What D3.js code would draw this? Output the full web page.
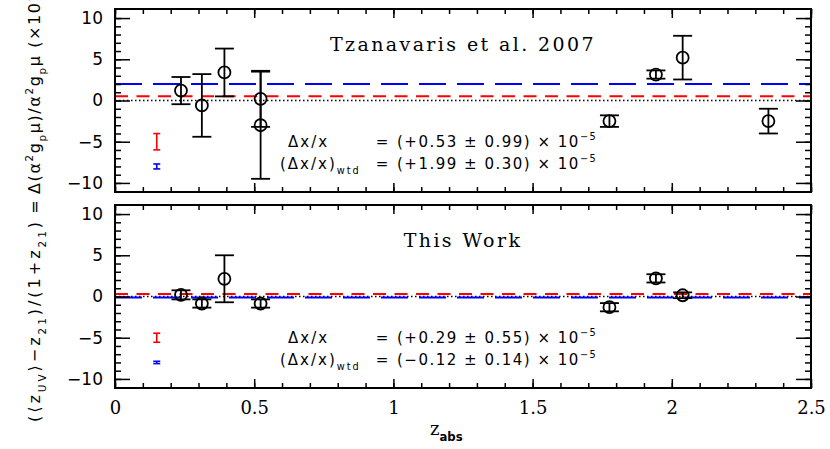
<!DOCTYPE html>
<html>
<head>
<meta charset="utf-8">
<script src="https://cdn.jsdelivr.net/npm/d3@7"></script>
<style>
  body { margin: 0; background: #fff; }
  svg { display: block; }
</style>
</head>
<body>
<svg width="830" height="449"></svg>
<script>
// Tzanavaris et al. 2007 points
const zTz = [0.237, 0.312, 0.393, 0.523, 0.523, 1.776, 1.943, 2.039, 2.347];
const dTz = [1.2, -0.6, 3.4, 0.2, -3.0, -2.5, 3.15, 5.2, -2.5];
const eTz = [1.65, 3.8, 2.9, 3.4, 6.5, 0.7, 0.5, 2.65, 1.5];

// This work points
const zThis = [0.237, 0.312, 0.393, 0.523, 1.776, 1.943, 2.039];
const dThis = [0.2, -0.85, 2.15, -0.85, -1.3, 2.2, 0.15];
const eThis = [0.55, 0.5, 2.85, 0.5, 0.5, 0.5, 0.35];

// mean and weighted mean (x 1e-5)
const meanTz = [0.53, 0.99], wtdTz = [1.99, 0.30];
const meanThis = [0.29, 0.55], wtdThis = [-0.12, 0.14];

const xTicks = [0, 0.5, 1, 1.5, 2, 2.5];
const yTicks = [-10, -5, 0, 5, 10];
const panelTitles = ['Tzanavaris et al. 2007', 'This Work'];

const SERIF = '"DejaVu Serif", serif';
const SANS = '"DejaVu Sans", sans-serif';

const svg = d3.select('svg');
const x = d3.scaleLinear().domain([0, 2.5]).range([115, 811]);
const xMinor = d3.range(0, 2.51, 0.1);
const yMinor = d3.range(-10, 11, 1);

function rich(text, parts, fs) {
  let shift = 0;
  parts.forEach(p => {
    const target = p.sub ? fs * 0.35 : p.sup ? -fs * 0.45 : 0;
    const ts = text.append('tspan').attr('dy', target - shift).text(p.t);
    if (p.sub || p.sup) ts.attr('font-size', fs * 0.65);
    shift = target;
  });
}

function panel(top, bottom, z, d, e, mean, wtd, title, showX) {
  const y = d3.scaleLinear().domain([-11.1, 11.1]).range([bottom, top]);
  const g = svg.append('g');

  // reference lines
  g.append('line').attr('x1', x(0)).attr('x2', x(2.5))
    .attr('y1', y(0)).attr('y2', y(0))
    .attr('stroke', '#000').attr('stroke-width', 1.5).attr('stroke-dasharray', '1.5,2.5');
  g.append('line').attr('x1', x(0)).attr('x2', x(2.5))
    .attr('y1', y(wtd[0])).attr('y2', y(wtd[0]))
    .attr('stroke', '#0000ff').attr('stroke-width', 2).attr('stroke-dasharray', '27,11');
  g.append('line').attr('x1', x(0)).attr('x2', x(2.5))
    .attr('y1', y(mean[0])).attr('y2', y(mean[0]))
    .attr('stroke', '#ff0000').attr('stroke-width', 2).attr('stroke-dasharray', '13,8.5');

  // data points
  const pts = g.selectAll('.pt').data(z.map((v, i) => ({z: v, d: d[i], e: e[i]})))
    .enter().append('g').attr('class', 'pt');
  pts.append('line')
    .attr('x1', p => x(p.z)).attr('x2', p => x(p.z))
    .attr('y1', p => y(p.d - p.e)).attr('y2', p => y(p.d + p.e));
  [-1, 1].forEach(s => {
    pts.append('line')
      .attr('x1', p => x(p.z) - 9.5).attr('x2', p => x(p.z) + 9.5)
      .attr('y1', p => y(p.d + s * p.e)).attr('y2', p => y(p.d + s * p.e));
  });
  pts.append('circle').attr('cx', p => x(p.z)).attr('cy', p => y(p.d)).attr('r', 6)
    .attr('fill', 'none');
  pts.selectAll('line, circle').attr('stroke', '#000').attr('stroke-width', 1.8);

  // mean error markers
  [[mean, -5, '#ff0000'], [wtd, -8, '#0000ff']].forEach(([m, c, col]) => {
    const mx = x(0.15);
    g.append('line').attr('x1', mx).attr('x2', mx).attr('y1', y(c - m[1])).attr('y2', y(c + m[1]))
      .attr('stroke', col).attr('stroke-width', 1.6);
    [-1, 1].forEach(s => g.append('line').attr('x1', mx - 3.5).attr('x2', mx + 3.5)
      .attr('y1', y(c + s * m[1])).attr('y2', y(c + s * m[1]))
      .attr('stroke', col).attr('stroke-width', 1.6));
  });

  // annotations
  const fs = 15;
  const fmt = v => (v < 0 ? '\u2212' : '+') + Math.abs(v).toFixed(2);
  const l1 = y(-5) + 5.5, l2 = y(-8) + 2.5;
  g.append('text').style('font-family', SANS).attr('x', 288).attr('y', l1)
    .attr('font-size', fs).attr('letter-spacing', 2).text('\u0394x/x');
  const t2 = g.append('text').style('font-family', SANS).attr('x', 280).attr('y', l2)
    .attr('font-size', fs).attr('letter-spacing', 2);
  rich(t2, [{t: '(\u0394x/x)'}, {t: 'wtd', sub: true}], fs);
  [[l1, mean], [l2, wtd]].forEach(([ly, m]) => {
    g.append('text').style('font-family', SANS).attr('x', 382).attr('y', ly)
      .attr('font-size', fs).attr('text-anchor', 'middle').text('=');
    const t = g.append('text').style('font-family', SANS).attr('x', 397).attr('y', ly)
      .attr('font-size', fs).attr('letter-spacing', 1.5);
    rich(t, [{t: `(${fmt(m[0])} \u00b1 ${m[1].toFixed(2)}) \u00d7 10`}, {t: '\u22125', sup: true}], fs);
  });

  g.append('text').style('font-family', SERIF).attr('x', 463).attr('y', y(0) - 49.5)
    .attr('font-size', 19).attr('letter-spacing', 2.4).attr('text-anchor', 'middle').text(title);

  // axes with inward ticks
  const axes = svg.append('g').attr('class', 'axes');
  const noLab = () => '';
  axes.append('g').attr('transform', `translate(0,${bottom})`)
    .call(d3.axisBottom(x).tickValues(xMinor).tickSizeInner(-5).tickSizeOuter(0).tickFormat(noLab));
  const xb = axes.append('g').attr('transform', `translate(0,${bottom})`)
    .call(d3.axisBottom(x).tickValues(xTicks).tickSizeInner(-9).tickSizeOuter(0)
      .tickPadding(26).tickFormat(showX ? d3.format('') : noLab));
  xb.selectAll('text').style('font-family', SERIF).attr('font-size', 18).attr('dy', 0);
  axes.append('g').attr('transform', `translate(0,${top})`)
    .call(d3.axisTop(x).tickValues(xMinor).tickSizeInner(-5).tickSizeOuter(0).tickFormat(noLab));
  axes.append('g').attr('transform', `translate(0,${top})`)
    .call(d3.axisTop(x).tickValues(xTicks).tickSizeInner(-9).tickSizeOuter(0).tickFormat(noLab));
  axes.append('g').attr('transform', `translate(${x(0)},0)`)
    .call(d3.axisLeft(y).tickValues(yMinor).tickSizeInner(-6).tickSizeOuter(0).tickFormat(noLab));
  const yl = axes.append('g').attr('transform', `translate(${x(0)},0)`)
    .call(d3.axisLeft(y).tickValues(yTicks).tickSizeInner(-15).tickSizeOuter(0).tickPadding(12)
      .tickFormat(d => d < 0 ? '\u2212' + Math.abs(d) : d));
  yl.selectAll('text').style('font-family', SANS).attr('font-size', 17);
  axes.append('g').attr('transform', `translate(${x(2.5)},0)`)
    .call(d3.axisRight(y).tickValues(yMinor).tickSizeInner(-6).tickSizeOuter(0).tickFormat(noLab));
  axes.append('g').attr('transform', `translate(${x(2.5)},0)`)
    .call(d3.axisRight(y).tickValues(yTicks).tickSizeInner(-15).tickSizeOuter(0).tickFormat(noLab));
  axes.selectAll('.domain').remove();
  axes.selectAll('.tick line').attr('stroke', '#000').attr('stroke-width', 1.5);
  axes.selectAll('.tick text').attr('fill', '#000');
  axes.append('rect').attr('x', x(0)).attr('y', top).attr('width', x(2.5) - x(0))
    .attr('height', bottom - top).attr('fill', 'none').attr('stroke', '#000').attr('stroke-width', 2);
}

panel(9, 192, zTz, dTz, eTz, meanTz, wtdTz, panelTitles[0], false);
panel(205, 388, zThis, dThis, eThis, meanThis, wtdThis, panelTitles[1], true);

// x axis label
const xl = svg.append('text').attr('x', 430).attr('y', 435).style('font-family', SERIF).attr('font-size', 18);
rich(xl, [{t: 'z'}, {t: 'abs', sub: true}], 18);
xl.selectAll('tspan').filter((d, i) => i === 1).style('font-family', SANS).attr('font-weight', 'bold');

// y axis label, rotated
const yfs = 16;
const ya = svg.append('text').style('font-family', SANS).attr('font-size', yfs)
  .attr('textLength', 200).attr('lengthAdjust', 'spacing')
  .attr('transform', 'translate(40,422) rotate(-90)');
rich(ya, [{t: '(\u27e8z'}, {t: 'UV', sub: true}, {t: '\u27e9\u2212z'}, {t: '21', sub: true},
  {t: ')/(1+z'}, {t: '21', sub: true}, {t: ')'}], yfs);
svg.append('text').style('font-family', SANS).attr('font-size', yfs).attr('text-anchor', 'middle')
  .attr('transform', 'translate(40,207) rotate(-90)').text('=');
const yb = svg.append('text').style('font-family', SANS).attr('font-size', yfs).attr('letter-spacing', 1.6)
  .attr('transform', 'translate(40,194) rotate(-90)');
rich(yb, [{t: '\u0394(\u03b1'}, {t: '2', sup: true}, {t: 'g'}, {t: 'p', sub: true}, {t: '\u03bc)/\u03b1'},
  {t: '2', sup: true}, {t: 'g'}, {t: 'p', sub: true}, {t: '\u03bc (\u00d710'}, {t: '\u22125', sup: true}, {t: ')'}], yfs);
</script>
</body>
</html>
